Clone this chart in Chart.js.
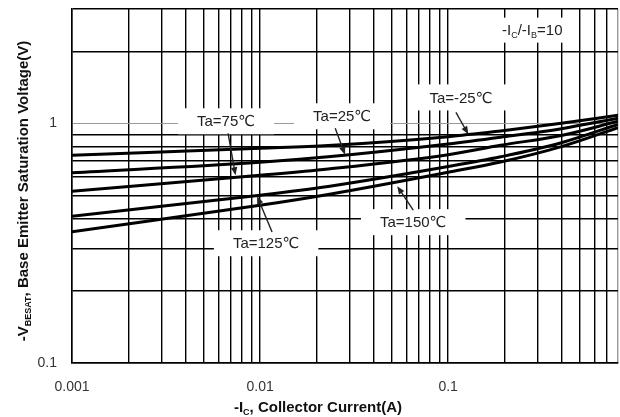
<!DOCTYPE html>
<html><head><meta charset="utf-8">
<script src="https://cdn.jsdelivr.net/npm/chart.js@4/dist/chart.umd.min.js"></script>
<style>html,body{margin:0;padding:0;background:#fff}#wrap{width:620px;height:417px}</style>
</head><body><div id="wrap"><canvas id="c" width="620" height="417"></canvas></div>
<script>
// ---- data ----
const currents = [0.001, 0.01, 0.023, 0.1, 0.19, 0.4, 0.8];   // -Ic (A)
const seriesNames = ['Ta=-25℃', 'Ta=25℃', 'Ta=75℃', 'Ta=125℃', 'Ta=150℃'];
const vTaMinus25 = [0.736, 0.787, 0.808, 0.880, 0.930, 1.00, 1.08];
const vTa25      = [0.622, 0.688, 0.725, 0.820, 0.875, 0.950, 1.05];
const vTa75      = [0.521, 0.607, 0.645, 0.740, 0.810, 0.890, 1.02];
const vTa125     = [0.410, 0.501, 0.545, 0.660, 0.725, 0.830, 0.99];
const vTa150     = [0.353, 0.455, 0.505, 0.625, 0.690, 0.800, 0.96];

const xGridValues = [0.001,0.002,0.003,0.004,0.005,0.006,0.007,0.008,0.009,
                     0.01,0.02,0.03,0.04,0.05,0.06,0.07,0.08,0.09,
                     0.1,0.2,0.3,0.4,0.5,0.6,0.7,0.8];
const yGridValues = [0.1,0.2,0.3,0.4,0.5,0.6,0.7,0.8,0.9,1,2,3];
const xTickLabels = ['0.001', '0.01', '0.1'];
const yTickLabels = ['0.1', '1'];

// annotation labels (data coordinates) and arrows (data coordinates)
const noteTexts = ['Ta=75℃', 'Ta=25℃', 'Ta=-25℃', 'Ta=150℃', 'Ta=125℃'];
const noteX = [0.00659, 0.0273, 0.117, 0.0652, 0.01077];
const noteY = [1.02, 1.07, 1.283, 0.387, 0.316];
const arrowFromX = [0.00676, 0.0251, 0.110, 0.0652, 0.01158];
const arrowFromY = [0.909, 0.953, 1.111, 0.434, 0.352];
const arrowToX   = [0.0074, 0.0283, 0.128, 0.0536, 0.00964];
const arrowToY   = [0.607, 0.740, 0.900, 0.547, 0.497];
const ratioX = 0.28, ratioY = 2.46;

const FONT = '"Liberation Sans", Arial, "DejaVu Sans", sans-serif';

function sameVal(a, b) { return Math.abs(a - b) <= 1e-9 * Math.max(1, Math.abs(b)); }
function labelFor(list, v) { const f = list.find(s => sameVal(Number(s), v)); return f || ''; }
function noPad(s) { s.paddingTop = 0; s.paddingBottom = 0; s.paddingLeft = 0; s.paddingRight = 0; }

function drawRich(ctx, segs, cx, cy, size, weight, rotate) {
  ctx.save();
  ctx.translate(cx, cy);
  if (rotate) ctx.rotate(-Math.PI / 2);
  const sub = Math.round(size * 0.62);
  const fontOf = s => `${weight} ${s.sub ? sub : size}px ${FONT}`;
  let total = 0;
  const ws = segs.map(s => { ctx.font = fontOf(s); const w = ctx.measureText(s.t).width; total += w; return w; });
  let x = -total / 2;
  ctx.textAlign = 'left';
  ctx.textBaseline = 'alphabetic';
  const base = size * 0.36;
  segs.forEach((s, i) => {
    ctx.font = fontOf(s);
    ctx.fillText(s.t, x, s.sub ? base + size * 0.18 : base);
    x += ws[i];
  });
  ctx.restore();
  return total;
}
function richWidth(ctx, segs, size, weight) {
  const sub = Math.round(size * 0.62);
  let t = 0;
  segs.forEach(s => { ctx.font = `${weight} ${s.sub ? sub : size}px ${FONT}`; t += ctx.measureText(s.t).width; });
  return t;
}

const notesPlugin = {
  id: 'notes',
  beforeDatasetsDraw(chart) {
    const ctx = chart.ctx, xs = chart.scales.x, ys = chart.scales.y;
    ctx.save();
    noteTexts.forEach((t, i) => {
      const px = xs.getPixelForValue(noteX[i]), py = ys.getPixelForValue(noteY[i]);
      ctx.font = `15px ${FONT}`;
      const w = ctx.measureText(t).width;
      ctx.fillStyle = '#fff';
      ctx.fillRect(px - w / 2 - 19, py - 13, w + 38, 26);
      ctx.fillStyle = '#222';
      ctx.textAlign = 'center'; ctx.textBaseline = 'middle';
      ctx.fillText(t, px, py + 1);
    });
    const segs = [{t:'-I'},{t:'C',sub:true},{t:'/-I'},{t:'B',sub:true},{t:'=10'}];
    const rx = xs.getPixelForValue(ratioX), ry = ys.getPixelForValue(ratioY);
    const rw = richWidth(ctx, segs, 15, 'normal');
    ctx.fillStyle = '#fff';
    ctx.fillRect(rx - rw / 2 - 9, ry - 12, rw + 18, 25);
    ctx.fillStyle = '#222';
    drawRich(ctx, segs, rx, ry, 15, 'normal', false);
    ctx.restore();
  },
  afterDatasetsDraw(chart) {
    const ctx = chart.ctx, xs = chart.scales.x, ys = chart.scales.y;
    ctx.save();
    ctx.strokeStyle = '#222'; ctx.fillStyle = '#222'; ctx.lineWidth = 1.4;
    arrowFromX.forEach((_, i) => {
      const fx = xs.getPixelForValue(arrowFromX[i]), fy = ys.getPixelForValue(arrowFromY[i]);
      const tx = xs.getPixelForValue(arrowToX[i]), ty = ys.getPixelForValue(arrowToY[i]);
      const a = Math.atan2(ty - fy, tx - fx), L = 8, H = 3.2;
      ctx.beginPath(); ctx.moveTo(fx, fy);
      ctx.lineTo(tx - Math.cos(a) * L * 0.8, ty - Math.sin(a) * L * 0.8); ctx.stroke();
      ctx.beginPath();
      ctx.moveTo(tx, ty);
      ctx.lineTo(tx - Math.cos(a) * L - Math.sin(a) * H, ty - Math.sin(a) * L + Math.cos(a) * H);
      ctx.lineTo(tx - Math.cos(a) * L + Math.sin(a) * H, ty - Math.sin(a) * L - Math.cos(a) * H);
      ctx.closePath(); ctx.fill();
    });
    ctx.restore();
  },
  afterDraw(chart) {
    const ctx = chart.ctx;
    ctx.save();
    ctx.fillStyle = '#111';
    drawRich(ctx, [{t:'-I'},{t:'C',sub:true},{t:', Collector Current(A)'}], 318, 407, 15, 'bold', false);
    drawRich(ctx, [{t:'-V'},{t:'BESAT',sub:true},{t:', Base Emitter Saturation Voltage(V)'}], 23, 191, 15, 'bold', true);
    ctx.restore();
  }
};

const seriesValues = [vTaMinus25, vTa25, vTa75, vTa125, vTa150];
new Chart(document.getElementById('c'), {
  type: 'line',
  data: {
    datasets: seriesNames.map((n, i) => ({
      label: n,
      data: currents.map((x, j) => ({x, y: seriesValues[i][j]})),
      borderColor: '#000', borderWidth: 3, pointRadius: 0, cubicInterpolationMode: 'monotone', fill: false
    }))
  },
  options: {
    responsive: false, animation: false,
    layout: {padding: {top: 9, right: 2, left: 0, bottom: 0}},
    plugins: {legend: {display: false}, tooltip: {enabled: false}},
    scales: {
      x: {
        type: 'logarithmic', min: 0.001, max: 0.8,
        afterBuildTicks: s => { s.ticks = xGridValues.map(v => ({value: v})); },
        afterFit: s => { s.height = 54; noPad(s); },
        grid: {color: c => (c.tick && sameVal(c.tick.value, 0.8)) ? '#999' : '#000', lineWidth: 1.4, drawTicks: false},
        border: {display: true, color: '#000', width: 1.5},
        ticks: {autoSkip: false, maxRotation: 0, padding: 16, color: '#333',
                font: {family: FONT, size: 14},
                callback: v => labelFor(xTickLabels, v)}
      },
      y: {
        type: 'logarithmic', min: 0.1, max: 3,
        afterBuildTicks: s => { s.ticks = yGridValues.map(v => ({value: v})); },
        afterFit: s => { s.width = 72; noPad(s); },
        grid: {color: c => (c.tick && sameVal(c.tick.value, 1)) ? '#9a9a9a' : '#000',
               lineWidth: c => (c.tick && sameVal(c.tick.value, 1)) ? 1 : 1.4, drawTicks: false},
        border: {display: true, color: '#000', width: 1.5},
        ticks: {autoSkip: false, padding: 15, color: '#333',
                font: {family: FONT, size: 14},
                callback: v => labelFor(yTickLabels, v)}
      }
    }
  },
  plugins: [notesPlugin]
});
</script></body></html>
